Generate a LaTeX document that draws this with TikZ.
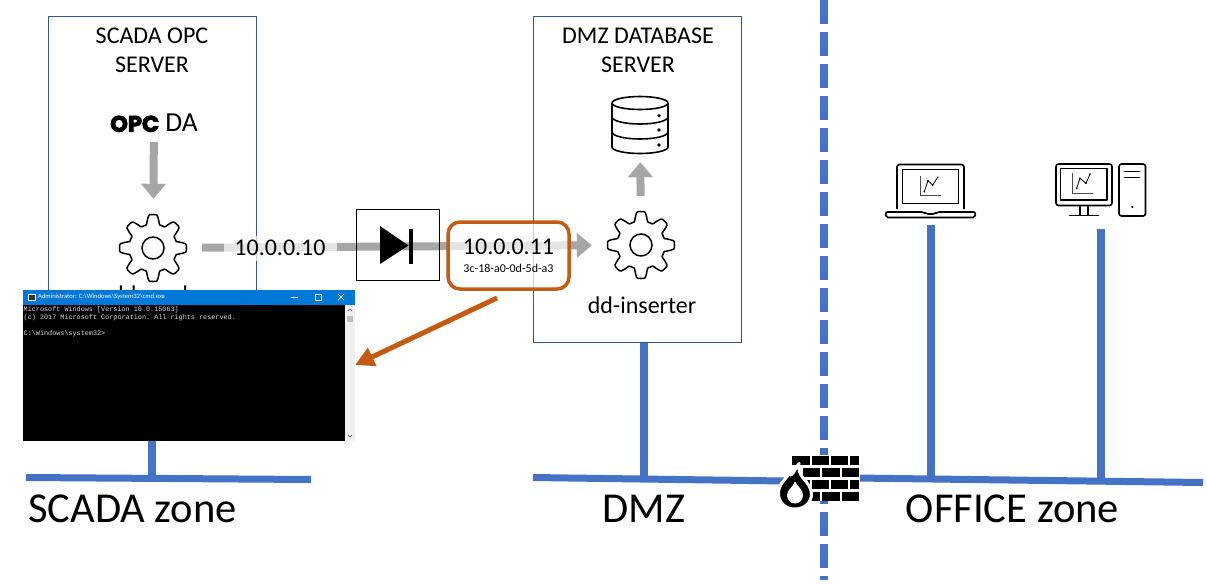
\documentclass[tikz,border=0pt]{standalone}
\usepackage{fontspec}
\setmainfont{Carlito}
\setmonofont{Liberation Mono}
\newfontfamily\opcfont{Poppins}[BoldFeatures={FakeBold=4}]
\usetikzlibrary{arrows.meta,positioning}
\definecolor{netblue}{HTML}{4472C4}
\definecolor{boxblue}{HTML}{2F5597}
\definecolor{flowgrey}{HTML}{A6A6A6}
\definecolor{macorange}{HTML}{C55A11}
\definecolor{winblue}{HTML}{0078D7}

\begin{document}
\begin{tikzpicture}[
  x=1pt, y=-1pt,
  lbl/.style={font=\fontsize{24}{28.5}\selectfont, inner sep=0pt, align=center},
  zonelbl/.style={font=\fontsize{42.6}{50}\selectfont, inner sep=0pt},
  hostbox/.style={draw=boxblue, line width=1pt, minimum width=208pt, minimum height=326pt, inner sep=0pt},
  slot/.style={circle, minimum size=98pt, inner sep=0pt},
  flow/.style={line width=8pt, flowgrey, -{Triangle[length=15pt,width=24pt]}},
  bus/.style={line width=7pt, netblue},
  tap/.style={line width=8pt, netblue},
  veil/.style={fill=white, fill opacity=.7, text opacity=1, inner sep=0pt},
  gear/.pic={
    \draw[line width=1.5pt, line join=round] plot[domain=0:360, samples=145, smooth]
      (\x:{28.7+4.8*min(1,max(-1,1.7*cos(8*\x)))}) -- cycle;
    \draw[line width=1.5pt] (0,0) circle[radius=11];
  },
  icon/.style={line width=1.6pt, line join=round},
  chart/.style={line width=.7pt, black!70}]
\useasboundingbox (0,0) rectangle (1207,584);
\fill[white] (0,0) rectangle (1207,584);

\node[hostbox] (scadabox) at (152,179) {};
\node[hostbox] (dmzbox) at (637,179) {};
\node[lbl, anchor=north] (scadatitle) at (152,28) {SCADA OPC\\SERVER};
\node[lbl, anchor=north] (dmztitle) at (638,28) {DMZ DATABASE\\SERVER};

\node[lbl, minimum height=38pt, font=\fontsize{27.5}{30}\selectfont] (opcda) at (154,123) {{\opcfont\bfseries\fontsize{22.5}{24}\selectfont OPC} DA};
\node[slot] (readgear) at (153,248) {};
\node[slot] (insgear) at (641,245) {};
\node[minimum width=58pt, minimum height=74pt, inner sep=0pt] (db) at (640,125) {};

\draw[flow] (opcda) -- (readgear);
\draw[flow] (readgear) -- (insgear);
\draw[flow] (insgear) -- (db);

\pic at (readgear.center) {gear};
\pic at (insgear.center) {gear};
\node[lbl, anchor=base west] (readlbl) at (111,302) {dd-reader};
\node[lbl, anchor=base] (inslbl) at (642,313) {dd-inserter};

\node[veil, lbl, minimum width=113pt, minimum height=25pt] (srcip) at (280,248) {10.0.0.10};

\node[draw, line width=1pt, minimum width=83pt, minimum height=71pt] (diode) at (397.5,245) {};
\fill (380,226) -- (408.5,245.5) -- (380,264) -- cycle;
\fill (409,229) rectangle (413,264);

\node[veil, draw=macorange, draw opacity=1, line width=3.5pt, rounded corners=12pt,
  minimum width=121pt, minimum height=67pt, align=center] (macbox) at (508.5,255.5)
  {\fontsize{24}{26}\selectfont 10.0.0.11\\[6pt]\fontsize{12}{14}\selectfont 3c-18-a0-0d-5d-a3};

\node[fill=black, inner sep=0pt, minimum width=332pt, minimum height=151pt] (cmdwin) at (189,365.5) {};
\fill[winblue] (cmdwin.north west) rectangle (355,305);
\fill[black!6] (345,305) rectangle (355,441);
\fill[black!25] (347,316) rectangle (353,322);
\draw[black!55, line width=.8pt] (348,311) -- (350,309) -- (352,311);
\draw[black!55, line width=.8pt] (348,435) -- (350,437) -- (352,435);
\fill[black!80] (28,294) rectangle (35,300);
\draw[white, line width=.5pt] (28,294.5) rectangle (35,300);
\node[anchor=west, inner sep=0pt, white, font=\fontsize{6.6}{8}\selectfont] (cmdtitle) at (38,297.2)
  {Administrator: C:\textbackslash Windows\textbackslash System32\textbackslash cmd.exe};
\draw[white, line width=.7pt] (291,297.5) -- (298,297.5);
\draw[white, line width=.7pt] (315,294) rectangle (321,300);
\draw[white, line width=.7pt] (338,294) -- (344,300) (344,294) -- (338,300);
\node[anchor=north west, inner sep=0pt, align=left, black!15, font=\ttfamily\fontsize{6.8}{8.1}\selectfont] (cmdtext) at (23.5,306.5)
  {Microsoft Windows [Version 10.0.15063]\\(c) 2017 Microsoft Corporation. All rights reserved.\\[8.1pt]C:\textbackslash Windows\textbackslash system32>};

\coordinate (macout) at (497,298);
\coordinate (cmdin) at (355,365);
\draw[macorange, line width=5pt, -{Triangle[length=19pt,width=19pt]}] (macout) -- (cmdin);

\coordinate (scadaw) at (26,477.5);
\coordinate (scadae) at (311,479.5);
\coordinate (scadatap) at (152,478);
\coordinate (dmzw) at (533,477.5);
\coordinate (dmztap) at (644,478);
\coordinate (fwl) at (785,481);
\coordinate (fwr) at (855,478);
\coordinate (offe) at (1203,482.5);
\coordinate (laptap) at (931,479);
\coordinate (pctap) at (1101,480);
\coordinate (lapfoot) at (931,225);
\coordinate (pcfoot) at (1101,229);
\coordinate (rimtop) at (824,0);
\coordinate (rimbot) at (824,580);

\draw[tap, dash pattern=on 24pt off 8pt] (rimtop) -- (rimbot);
\draw[tap] (scadatap) -- (scadatap |- cmdwin.south);
\draw[tap] (dmztap) -- (dmztap |- dmzbox.south);
\draw[tap] (laptap) -- (lapfoot);
\draw[tap] (pctap) -- (pcfoot);
\draw[bus] (scadaw) -- (scadae);
\draw[bus] (dmzw) -- (fwl);
\draw[bus] (fwr) -- (offe);

\node[zonelbl, anchor=base west] (scadazone) at (28,522) {SCADA zone};
\node[zonelbl, anchor=base] (dmzzone) at (644,522) {DMZ};
\node[zonelbl, anchor=base] (offzone) at (1012.5,522) {OFFICE zone};

\fill[white] (791,455) rectangle (860,501);
\foreach \ya/\yb in {456/465,479.7/488.7} {
  \fill (792.3,\ya) rectangle (810,\yb);
  \fill (811.7,\ya) rectangle (829.3,\yb);
  \fill (831,\ya) rectangle (848.3,\yb);
  \fill (850,\ya) rectangle (859,\yb);
}
\foreach \ya/\yb in {467.7/476.7,491.7/500.5} {
  \fill (803,\ya) rectangle (820,\yb);
  \fill (822,\ya) rectangle (840,\yb);
  \fill (841.7,\ya) rectangle (859,\yb);
}
\draw[white, line width=3pt, fill=black, line join=round] (795,509)
  .. controls (785,509) and (778.5,502) .. (778.5,494)
  .. controls (778.5,484) and (785,480) .. (789,474)
  .. controls (792,478) and (794,470) .. (799,463.5)
  .. controls (798,470) and (800,474) .. (803,478)
  .. controls (807,482) and (811.5,488) .. (811.5,494)
  .. controls (811.5,502) and (805,509) .. (795,509) -- cycle;
\fill[white] (795,503.5)
  .. controls (790,503.5) and (787,499) .. (787,495)
  .. controls (787,490) and (793,487) .. (795,481.5)
  .. controls (798,487) and (803,490) .. (803,495)
  .. controls (803,499) and (800,503.5) .. (795,503.5) -- cycle;

\draw[icon] (612,103) arc[start angle=180, end angle=540, x radius=28, y radius=6.5];
\draw[icon] (612,103) -- (612,147) arc[start angle=180, end angle=0, x radius=28, y radius=6.5] -- (668,103);
\draw[icon] (612,117) arc[start angle=180, end angle=0, x radius=28, y radius=7];
\draw[icon] (612,132) arc[start angle=180, end angle=0, x radius=28, y radius=7];
\foreach \yy in {115.7,130,145} \fill (659,\yy) circle[radius=1.8];

\draw[icon, rounded corners=2.5pt] (897,209) -- (897,164.5) -- (964,164.5) -- (964,209);
\draw[icon] (902.5,169.5) rectangle (958.5,203.5);
\draw[icon, rounded corners=2pt] (885.5,212) -- (924,212) -- (926,214) -- (935,214) -- (937,212) -- (975.5,212) -- (975,217.5) -- (886,217.5) -- cycle;
\draw[chart] (920,176) -- (920,195.5) -- (941,195.5);
\draw[line width=.8pt] (924.3,191.7) -- (928,180.7) -- (932.7,185) -- (937.7,177.3);
\foreach \px/\py in {924.3/191.7,928/180.7,932.7/185,937.7/177.3} \fill (\px,\py) circle[radius=.9];

\draw[icon, rounded corners=2.5pt] (1056,164) rectangle (1112,205.5);
\draw[icon] (1060.5,168.5) rectangle (1107,200);
\draw[icon] (1080,206) -- (1080,215) (1088,206) -- (1088,215) (1069,215.5) -- (1099,215.5);
\draw[icon, rounded corners=2.5pt] (1119,164) rectangle (1145.5,216);
\draw[icon] (1124,171.5) -- (1140,171.5) (1124,177.5) -- (1140,177.5);
\fill (1132.3,207) circle[radius=1.2];
\draw[chart] (1072.3,173) -- (1072.3,193) -- (1092.7,193);
\draw[line width=.8pt] (1076.7,188.3) -- (1080,178.3) -- (1086,183.3) -- (1090,174);
\foreach \px/\py in {1076.7/188.3,1080/178.3,1086/183.3,1090/174} \fill (\px,\py) circle[radius=.9];
\end{tikzpicture}
\end{document}
